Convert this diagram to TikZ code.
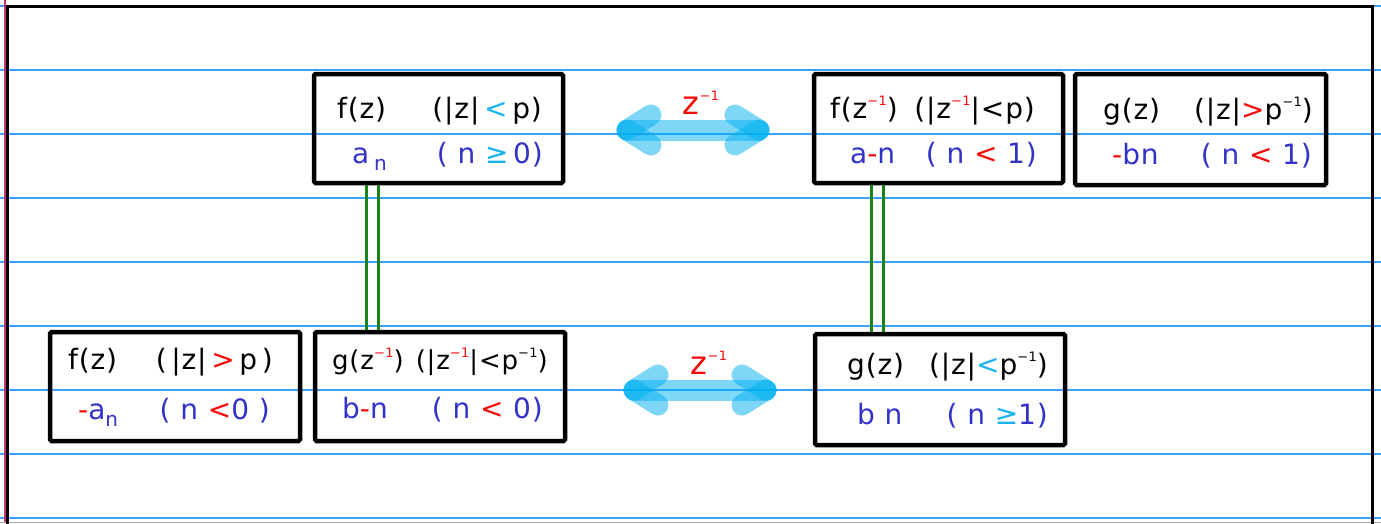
\documentclass[tikz,border=0pt]{standalone}
\usepackage{fontspec}
\setmainfont{DejaVu Sans}
\newfontfamily\hwfam[LetterSpace=3]{DejaVu Sans}
\usetikzlibrary{calc}
\definecolor{nblue}{RGB}{60,160,255}
\definecolor{tblue}{RGB}{50,50,200}
\definecolor{tcyan}{RGB}{25,180,240}
\definecolor{tred}{RGB}{245,10,10}
\definecolor{tgreen}{RGB}{25,130,25}
\definecolor{hlc}{RGB}{0,175,240}
\definecolor{pinkm}{RGB}{200,50,110}
\newcommand\hw{\hwfam\fontsize{28}{32}\selectfont}
\newcommand\hws{\hwfam\fontsize{26}{30}\selectfont}
\newcommand\mysp[1]{\raisebox{0.45em}{\fontsize{13}{13}\selectfont #1}}
\newcommand\mysb[1]{\raisebox{-0.25em}{\fontsize{20}{20}\selectfont #1}}
\newcommand\rd[1]{{\color{tred}#1}}
\newcommand\cy[1]{{\color{tcyan}#1}}
\tikzset{
  box/.style={draw=black, line width=4.5pt, rounded corners=1.5pt, minimum width=249pt, minimum height=109pt, inner sep=0pt},
  txt/.style={inner sep=0pt, font=\hw},
  hl/.style={line width=21pt, line cap=round, draw=hlc, draw opacity=0.5},
  dbl/.style={draw=tgreen, line width=3pt},
  rule/.style={draw=nblue, line width=2pt},
}
\begin{document}
\begin{tikzpicture}[x=1pt,y=-1pt]
\useasboundingbox (0,0) rectangle (1381,523);
% notebook lines
\foreach \yy in {5.7,69.7,133.7,197.7,261.7,325.7,389.7,453.7,517.7}
  \draw[rule] (0,\yy) -- (1381,\yy);
\draw[pinkm, line width=1.5pt] (5,0) -- (5,523);
\draw[gray!70, line width=1pt] (0,522.5) -- (1381,522.5);
\draw[black, line width=3pt] (7.5,560) -- (7.5,6.5) -- (1372.5,6.5) -- (1372.5,560);
% boxes
\node[box] (b1) at (438.5,128.5) {};
\node[box] (b2) at (938.5,128.5) {};
\node[box, minimum width=251pt, minimum height=111pt] (b3) at (1200.5,129.5) {};
\node[box, minimum width=250pt] (b4) at (175,386.5) {};
\node[box, minimum width=250pt] (b5) at (440,386.5) {};
\node[box, minimum width=250pt, minimum height=111pt] (b6) at (940,389.5) {};
% green double lines
\draw[dbl] ([xshift=-72.5pt]b1.south) -- ([xshift=-72.5pt]b1.south |- b5.north);
\draw[dbl] ([xshift=-60.5pt]b1.south) -- ([xshift=-60.5pt]b1.south |- b5.north);
\draw[dbl] ([xshift=-67.5pt]b2.south) -- ([xshift=-67.5pt]b2.south |- b6.north);
\draw[dbl] ([xshift=-55.5pt]b2.south) -- ([xshift=-55.5pt]b2.south |- b6.north);
% arrows
\coordinate (t1) at (627,130); \coordinate (t2) at (759,130);
\coordinate (t1a) at (651,115); \coordinate (t1b) at (651,145);
\coordinate (t2a) at (735,115); \coordinate (t2b) at (735,145);
\draw[hl] (t1) -- (t2);
\draw[hl] (t1) -- (t1a); \draw[hl] (t1) -- (t1b);
\draw[hl] (t2) -- (t2a); \draw[hl] (t2) -- (t2b);
\coordinate (u1) at (634,390); \coordinate (u2) at (766,390);
\coordinate (u1a) at (658,375); \coordinate (u1b) at (658,405);
\coordinate (u2a) at (742,375); \coordinate (u2b) at (742,405);
\draw[hl] (u1) -- (u2);
\draw[hl] (u1) -- (u1a); \draw[hl] (u1) -- (u1b);
\draw[hl] (u2) -- (u2a); \draw[hl] (u2) -- (u2b);
\node[txt, text=tred, font=\hwfam\fontsize{32}{34}\selectfont] (zt) at (701,103) {z\mysp{−1}};
\node[txt, text=tred, font=\hwfam\fontsize{32}{34}\selectfont] (zb) at (709,363) {z\mysp{−1}};
% box 1
\node[txt, anchor=west] (b1l1) at (337,112) {\strut f(z)};
\node[txt, anchor=east] (b1r1) at (542,112) {\strut(|z|\,\cy{<}\,p)};
\node[txt, anchor=west, text=tblue] (b1l2) at (352,157) {\strut a\,\mysb{n}};
\node[txt, anchor=east, text=tblue] (b1r2) at (543,157) {\strut( n \cy{≥}\,0)};
% box 2
\node[txt, anchor=west] (b2l1) at (830,112) {\strut f(z\mysp{\rd{−1}})};
\node[txt, anchor=east] (b2r1) at (1035,112) {\strut(|z\mysp{\rd{−1}}|<p)};
\node[txt, anchor=west, text=tblue] (b2l2) at (850,157) {\strut a\rd{-}n};
\node[txt, anchor=east, text=tblue] (b2r2) at (1037,157) {\strut( n \rd{<} 1)};
% box 3
\node[txt, anchor=west] (b3l1) at (1103,113) {\strut g(z)};
\node[txt, anchor=east] (b3r1) at (1313,113) {\strut(|z|\rd{>}p\mysp{−1})};
\node[txt, anchor=west, text=tblue] (b3l2) at (1112,158) {\strut\rd{-}bn};
\node[txt, anchor=east, text=tblue] (b3r2) at (1312,158) {\strut( n \rd{<} 1)};
% box 4
\node[txt, anchor=west] (b4l1) at (68,363) {\strut f(z)};
\node[txt, anchor=east] (b4r1) at (273,363) {\strut(\,|z|\,\rd{>}\,p\,)};
\node[txt, anchor=west, text=tblue] (b4l2) at (78,413) {\strut\rd{-}a\mysb{n}};
\node[txt, anchor=east, text=tblue] (b4r2) at (270,413) {\strut( n \rd{<}0 )};
% box 5
\node[txt, anchor=west, font=\hws] (b5l1) at (332,363) {\strut g(z\mysp{\rd{−1}})};
\node[txt, anchor=east, font=\hws] (b5r1) at (548,363) {\strut(|z\mysp{\rd{−1}}|<p\mysp{−1})};
\node[txt, anchor=west, text=tblue] (b5l2) at (342,412) {\strut b\rd{-}n};
\node[txt, anchor=east, text=tblue] (b5r2) at (543,412) {\strut( n \rd{<} 0)};
% box 6
\node[txt, anchor=west] (b6l1) at (847,368) {\strut g(z)};
\node[txt, anchor=east] (b6r1) at (1048,368) {\strut(|z|\cy{<}p\mysp{−1})};
\node[txt, anchor=west, text=tblue] (b6l2) at (857,418) {\strut b n};
\node[txt, anchor=east, text=tblue] (b6r2) at (1048,418) {\strut( n \cy{≥}1)};
\end{tikzpicture}
\end{document}
